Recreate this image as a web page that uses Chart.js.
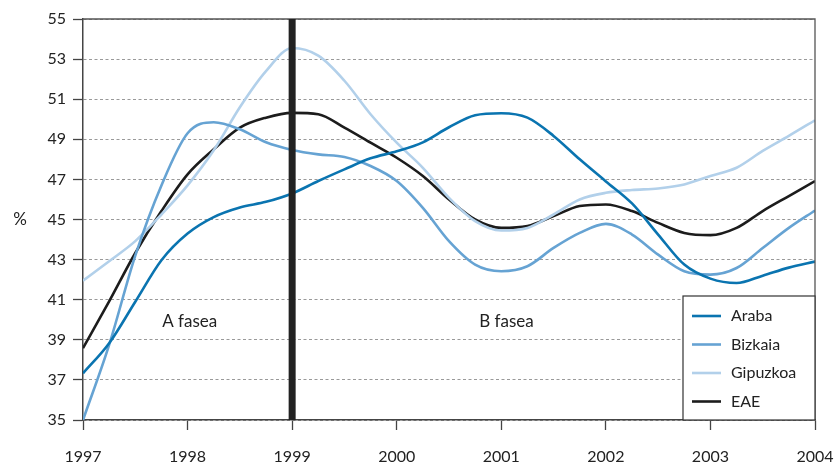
<!DOCTYPE html>
<html>
<head>
<meta charset="utf-8">
<script src="https://cdn.jsdelivr.net/npm/chart.js@4.4.1/dist/chart.umd.min.js"></script>
<style>
  html, body { margin: 0; padding: 0; background: #fff; }
  #wrap { width: 836px; height: 463px; position: relative; }
</style>
</head>
<body>
<div id="wrap"><canvas id="c" width="836" height="463"></canvas></div>
<script>
const years = [1997, 1997.25, 1997.5, 1997.75, 1998, 1998.25, 1998.5, 1998.75,
  1999, 1999.25, 1999.5, 1999.75, 2000, 2000.25, 2000.5, 2000.75,
  2001, 2001.25, 2001.5, 2001.75, 2002, 2002.25, 2002.5, 2002.75,
  2003, 2003.25, 2003.5, 2003.75, 2004];
const araba = [37.33, 38.83, 40.9, 42.97, 44.3, 45.12, 45.6, 45.88,
  46.3, 46.92, 47.5, 48.05, 48.4, 48.85, 49.6, 50.2,
  50.3, 50.08, 49.17, 48.0, 46.9, 45.8, 44.25, 42.75,
  42.05, 41.83, 42.2, 42.6, 42.9];
const bizkaia = [35.0, 38.75, 43.2, 46.7, 49.3, 49.85, 49.5, 48.85,
  48.47, 48.25, 48.12, 47.67, 46.92, 45.58, 43.92, 42.75,
  42.42, 42.67, 43.58, 44.33, 44.78, 44.25, 43.25, 42.42,
  42.25, 42.58, 43.58, 44.58, 45.45];
const gipuzkoa = [41.95, 42.92, 43.92, 45.25, 46.7, 48.45, 50.6, 52.4,
  53.55, 53.17, 51.92, 50.25, 48.83, 47.58, 46.08, 44.92,
  44.45, 44.58, 45.25, 46.0, 46.33, 46.47, 46.55, 46.75,
  47.17, 47.58, 48.42, 49.17, 49.95];
const eae = [38.58, 40.92, 43.33, 45.42, 47.25, 48.5, 49.58, 50.08,
  50.32, 50.25, 49.58, 48.83, 48.08, 47.17, 46.0, 45.0,
  44.58, 44.67, 45.17, 45.67, 45.75, 45.42, 44.83, 44.33,
  44.22, 44.58, 45.42, 46.17, 46.92];
const seriesNames = ['Araba', 'Bizkaia', 'Gipuzkoa', 'EAE'];
const xTicks = [1997, 1998, 1999, 2000, 2001, 2002, 2003, 2004];
const yTicks = [35, 37, 39, 41, 43, 45, 47, 49, 51, 53, 55];
const phaseLabels = ['A fasea', 'B fasea'];
const phaseYear = 1999;
const yUnit = '%';

const colors = ['#0a74b0', '#66a3d3', '#b2d0ea', '#1c1c1c'];
const FONT = 'Lato, "Open Sans", sans-serif';

function pts(arr) { return years.map((y, i) => ({x: y, y: arr[i]})); }

const extras = {
  id: 'extras',
  afterDatasetsDraw(chart) {
    const {ctx, chartArea: a, scales: {x, y}} = chart;
    ctx.save();
    // frame top & right
    ctx.strokeStyle = '#555';
    ctx.lineWidth = 1.3;
    ctx.beginPath();
    ctx.moveTo(a.left, a.top); ctx.lineTo(a.right, a.top); ctx.lineTo(a.right, a.bottom);
    ctx.stroke();
    // phase divider
    const px = x.getPixelForValue(phaseYear);
    ctx.fillStyle = '#222';
    ctx.fillRect(px - 3.5, a.top, 7, a.bottom - a.top);
    // phase labels
    ctx.fillStyle = '#222';
    ctx.font = '17px ' + FONT;
    ctx.textAlign = 'center';
    ctx.textBaseline = 'middle';
    ctx.fillText(phaseLabels[0], x.getPixelForValue(1998.02), y.getPixelForValue(39.9));
    ctx.fillText(phaseLabels[1], x.getPixelForValue(2001.05), y.getPixelForValue(39.9));
    // unit
    ctx.fillText(yUnit, 20, y.getPixelForValue(45));
    // x tick labels
    ctx.font = '16px ' + FONT;
    ctx.textBaseline = 'alphabetic';
    xTicks.forEach(v => {
      ctx.fillText(String(v), x.getPixelForValue(v), a.bottom + 42);
    });
    // legend
    ctx.textBaseline = 'middle';
    const lw = 132, lh = 124;
    const lx = a.right - lw, ly = a.bottom - lh;
    ctx.fillStyle = '#fff';
    ctx.fillRect(lx, ly, lw, lh);
    ctx.strokeStyle = '#333';
    ctx.lineWidth = 1.2;
    ctx.strokeRect(lx, ly, lw, lh);
    ctx.textAlign = 'left';
    ctx.font = '16px ' + FONT;
    chart.data.datasets.forEach((ds, i) => {
      const ry = ly + 20 + i * 28.5;
      ctx.strokeStyle = ds.borderColor;
      ctx.lineWidth = 2.6;
      ctx.beginPath();
      ctx.moveTo(lx + 9, ry); ctx.lineTo(lx + 38, ry);
      ctx.stroke();
      ctx.fillStyle = '#222';
      ctx.fillText(ds.label, lx + 48, ry);
    });
    ctx.restore();
  }
};

new Chart(document.getElementById('c'), {
  type: 'line',
  data: {
    datasets: [araba, bizkaia, gipuzkoa, eae].map((arr, i) => ({
      label: seriesNames[i],
      data: pts(arr),
      borderColor: colors[i],
      backgroundColor: colors[i],
      borderWidth: 2.6,
      pointRadius: 0,
      tension: 0.4,
      cubicInterpolationMode: 'monotone',
      fill: false
    }))
  },
  options: {
    responsive: false,
    animation: false,
    layout: { padding: { left: 0, top: 19, right: 21, bottom: 0 } },
    plugins: { legend: { display: false }, tooltip: { enabled: false } },
    scales: {
      x: {
        type: 'linear',
        min: 1997, max: 2004,
        afterBuildTicks: (s) => { s.ticks = xTicks.map(v => ({value: v})); },
        afterFit: (s) => { s.height = 43; },
        ticks: { display: false },
        grid: { drawOnChartArea: false, drawTicks: true, tickLength: 10, tickColor: '#444', tickWidth: 1.3 },
        border: { display: true, color: '#444', width: 1.5 }
      },
      y: {
        type: 'linear',
        min: 35, max: 55,
        afterBuildTicks: (s) => { s.ticks = yTicks.map(v => ({value: v})); },
        afterFit: (s) => { s.width = 83; },
        ticks: { color: '#222', font: { family: FONT, size: 16 }, padding: 7,
                 callback: (v) => String(v) },
        grid: { color: '#999', lineWidth: 1, drawTicks: true, tickLength: 10, tickColor: '#444',
                tickWidth: 1.3, tickBorderDash: [] },
        border: { display: true, color: '#444', width: 1.5, dash: [3, 2.5] }
      }
    }
  },
  plugins: [extras]
});
</script>
</body>
</html>
